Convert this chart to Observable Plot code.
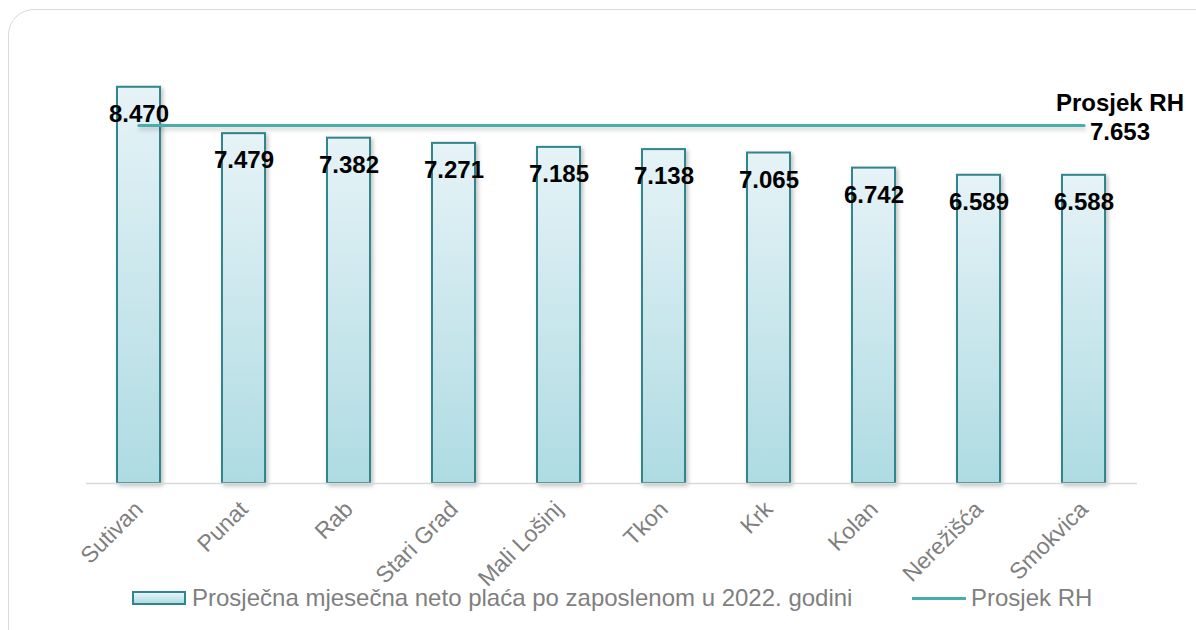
<!DOCTYPE html>
<html><head><meta charset="utf-8">
<script src="https://cdn.jsdelivr.net/npm/d3@7"></script>
<script src="https://cdn.jsdelivr.net/npm/@observablehq/plot@0.6"></script>
<style>
body{margin:0;width:1196px;height:630px;overflow:hidden;background:#fff;font-family:"Liberation Sans",Arial,sans-serif;}
#wrap{position:relative;width:1196px;height:630px;}
#frame{position:absolute;left:8px;top:9px;width:1220px;height:660px;border:1.5px solid #d9d9d9;border-radius:26px;box-sizing:border-box;}
#chart{position:absolute;left:0;top:0;}
.leg{position:absolute;top:584px;height:28px;font-size:24px;color:#7f7f7f;display:flex;align-items:center;white-space:nowrap;}
.sw{width:50px;height:10px;border:2px solid #31858c;background:linear-gradient(#e6f3f7,#b0dce3);margin-right:6px;}
.ln{width:54px;height:3px;background:#4bacac;margin-right:5px;}
</style></head>
<body>
<div id="wrap">
<div id="frame"></div>
<div id="chart"></div>
<div class="leg" style="left:132px"><span class="sw"></span>Prosječna mjesečna neto plaća po zaposlenom u 2022. godini</div>
<div class="leg" style="left:912px"><span class="ln"></span>Prosjek RH</div>
</div>
<script>
const municipalities = ["Sutivan","Punat","Rab","Stari Grad","Mali Lošinj","Tkon","Krk","Kolan","Nerežišća","Smokvica"];
const salaries = [8470, 7479, 7382, 7271, 7185, 7138, 7065, 6742, 6589, 6588];
const averageRH = 7653;
const averageLabel = "Prosjek RH";

const fmt = v => d3.format(",.0f")(v).replace(",", ".");
const data = municipalities.map((m, i) => ({name: m, value: salaries[i]}));
const lineData = municipalities.map(m => ({name: m, value: averageRH}));
const last = municipalities[municipalities.length - 1];

const font = '"Liberation Sans", Arial, sans-serif';
const chart = Plot.plot({
  width: 1196,
  height: 630,
  marginLeft: 86,
  marginRight: 59,
  marginTop: 62,
  marginBottom: 147,
  style: {fontFamily: font, background: "transparent", overflow: "visible"},
  x: {domain: municipalities, paddingInner: 0.59, paddingOuter: 0.295, align: 0.5},
  y: {domain: [0, 9000], axis: null},
  marks: [
    Plot.barY(data, {x: "name", y: "value", fill: "url(#barGrad)", stroke: "#31858c", strokeWidth: 2}),
    Plot.ruleY([0], {stroke: "#d9d9d9", strokeWidth: 1.5}),
    Plot.line(lineData, {x: "name", y: "value", stroke: "#4bacac", strokeWidth: 3.2}),
    Plot.text(data, {x: "name", y: "value", text: d => fmt(d.value), dy: 27, fontSize: 24, fontWeight: "bold", fill: "#000"}),
    Plot.text([averageRH], {x: () => last, y: d => d, text: () => averageLabel, dx: 36, dy: -22, fontSize: 24, fontWeight: "bold", fill: "#000"}),
    Plot.text([averageRH], {x: () => last, y: d => d, text: d => fmt(d), dx: 36, dy: 7, fontSize: 24, fontWeight: "bold", fill: "#000"}),
    Plot.axisX({tickRotate: -45, tickSize: 0, tickPadding: 22, fontSize: 23, color: "#7f7f7f", label: null})
  ]
});
const svg = d3.select(chart);
const defs = svg.insert("defs", ":first-child");
const g = defs.append("linearGradient").attr("id", "barGrad").attr("x1", 0).attr("y1", 0).attr("x2", 0).attr("y2", 1);
g.append("stop").attr("offset", "0%").attr("stop-color", "#e6f3f7");
g.append("stop").attr("offset", "100%").attr("stop-color", "#aedbe2");
svg.selectAll('g[aria-label="bar"]').style("filter", "drop-shadow(2px 2px 2px rgba(0,0,0,0.25))");
svg.selectAll('g[aria-label="line"]').style("filter", "drop-shadow(1px 3px 2px rgba(0,0,0,0.2))");
document.getElementById("chart").appendChild(chart);
</script>
</body></html>
